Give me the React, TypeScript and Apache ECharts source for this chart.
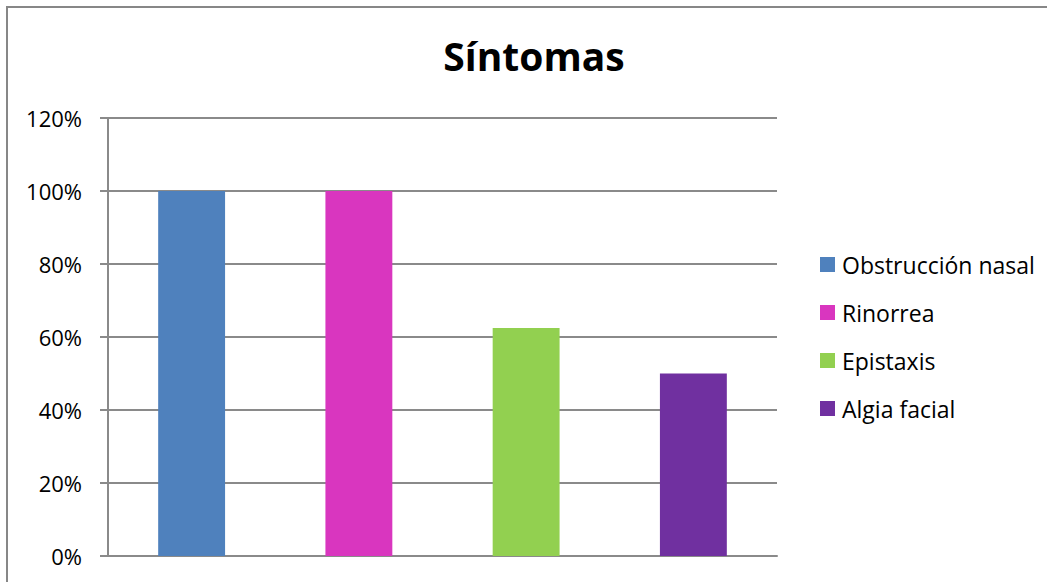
import React, { useEffect, useRef } from "react";
import * as echarts from "echarts";

const categories = ["Obstrucción nasal", "Rinorrea", "Epistaxis", "Algia facial"];
const values = [1.0, 1.0, 0.625, 0.5];
const colors = ["#4F81BD", "#D936BF", "#92D050", "#7030A0"];
const yTicks = [0, 0.2, 0.4, 0.6, 0.8, 1.0, 1.2];
const titleText = "Síntomas";

export default function App() {
  const ref = useRef<HTMLDivElement>(null);
  useEffect(() => {
    if (!ref.current) return;
    const chart = echarts.init(ref.current, null, { renderer: "svg" });
    const font = "'Open Sans', 'Noto Sans', sans-serif";
    const series = categories.map((name, i) => ({
      name,
      type: "bar",
      stack: "all",
      barWidth: "40%",
      itemStyle: { color: colors[i] },
      data: categories.map((_, j) => (j === i ? values[i] : null)),
    }));
    chart.setOption({
      animation: false,
      textStyle: { fontFamily: font },
      title: {
        text: titleText,
        left: 534,
        textAlign: "center",
        top: 36,
        padding: 0,
        textStyle: { fontSize: 39, fontWeight: "bold", color: "#000", fontFamily: font },
      },
      graphic: [
        {
          type: "rect",
          shape: { x: 7, y: 7, width: 1200, height: 800 },
          style: { fill: "none", stroke: "#878787", lineWidth: 2 },
          silent: true,
        },
      ],
      legend: {
        orient: "vertical",
        left: 820,
        top: 253,
        padding: 0,
        itemWidth: 15,
        itemHeight: 15,
        itemGap: 25,
        icon: "rect",
        data: categories,
        textStyle: { fontSize: 23, color: "#000", lineHeight: 23, fontFamily: font, padding: [0, 0, 0, 2] },
      },
      grid: { left: 108, right: 270, top: 118, bottom: 26, containLabel: false },
      xAxis: {
        type: "category",
        data: categories,
        axisLine: { show: true, lineStyle: { color: "#8a8a8a", width: 2 } },
        axisTick: { show: false },
        axisLabel: { show: false },
      },
      yAxis: {
        type: "value",
        min: 0,
        max: yTicks[yTicks.length - 1],
        interval: 0.2,
        axisLine: { show: true, lineStyle: { color: "#8a8a8a", width: 2 } },
        axisTick: { show: true, length: 8, lineStyle: { color: "#8a8a8a", width: 2 } },
        splitLine: { show: true, lineStyle: { color: "#8a8a8a", width: 2 } },
        axisLabel: {
          fontSize: 22,
          color: "#000",
          margin: 26,
          fontFamily: font,
          formatter: (v: number) => `${Math.round(v * 100)}%`,
        },
      },
      series,
    });
    return () => chart.dispose();
  }, []);
  return (
    <div
      ref={ref}
      style={{ position: "fixed", left: 0, top: 0, width: 1047, height: 582, background: "#fff" }}
    />
  );
}
